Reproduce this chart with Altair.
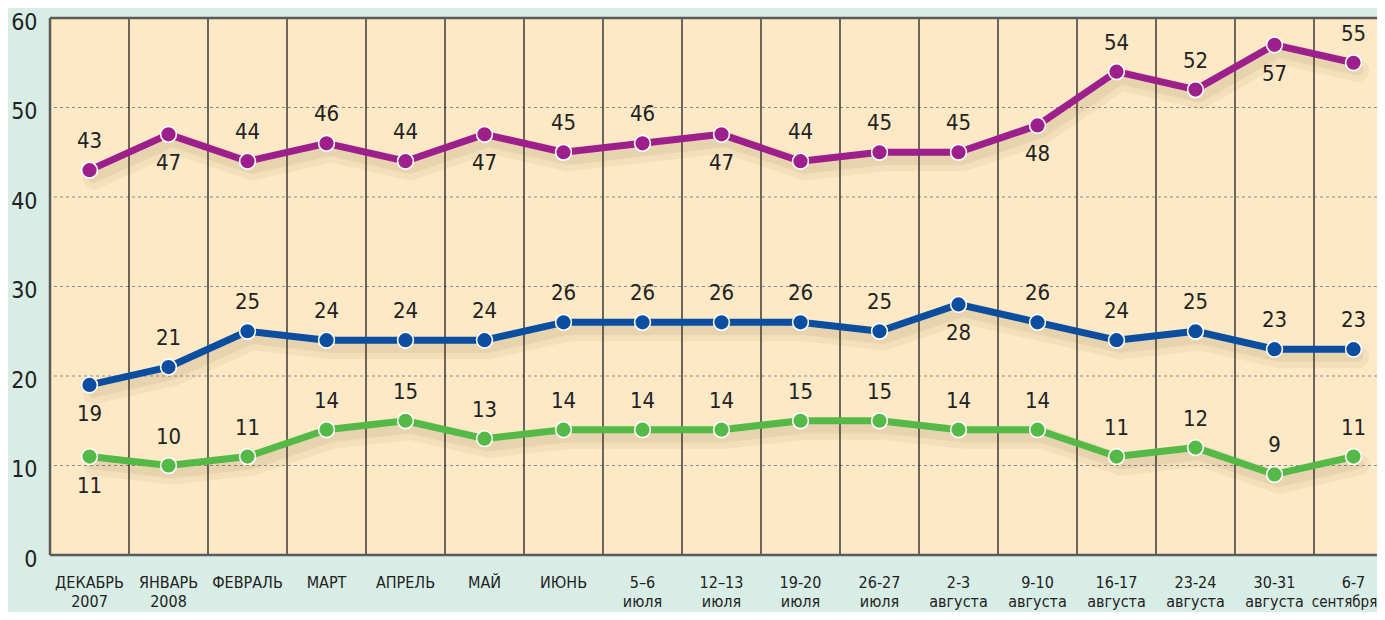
import altair as alt
import pandas as pd

cats_line1 = ["ДЕКАБРЬ", "ЯНВАРЬ", "ФЕВРАЛЬ", "МАРТ", "АПРЕЛЬ", "МАЙ", "ИЮНЬ",
              "5–6", "12–13", "19-20", "26-27", "2-3", "9-10", "16-17",
              "23-24", "30-31", "6-7"]
cats_line2 = ["2007", "2008", "", "", "", "", "", "июля", "июля", "июля", "июля",
              "августа", "августа", "августа", "августа", "августа", "сентября"]

purple = [43, 47, 44, 46, 44, 47, 45, 46, 47, 44, 45, 45, 48, 54, 52, 57, 55]
blue = [19, 21, 25, 24, 24, 24, 26, 26, 26, 26, 25, 28, 26, 24, 25, 23, 23]
green = [11, 10, 11, 14, 15, 13, 14, 14, 14, 15, 15, 14, 14, 11, 12, 9, 11]

# label placement: A = above the point, B = below
purple_pos = "ABAAABAABAAABAABA"
blue_pos = "BAAAAAAAAAABAAAAA"
green_pos = "BAAAAAAAAAAAAAAAA"

series_names = ["purple", "blue", "green"]
series_colors = ["#9c1f8b", "#0b4d9f", "#55b947"]

rows = []
for name, vals, pos in zip(series_names, [purple, blue, green],
                           [purple_pos, blue_pos, green_pos]):
    for i, (v, p) in enumerate(zip(vals, pos)):
        rows.append({"series": name, "idx": i, "value": v, "pos": p})
df = pd.DataFrame(rows)

cat_df = pd.DataFrame({"idx": list(range(len(cats_line1))),
                       "l1": cats_line1, "l2": cats_line2})
sep_df = pd.DataFrame({"b": [i + 0.5 for i in range(len(cats_line1) - 1)]})
grid_df = pd.DataFrame({"g": [10, 20, 30, 40, 50]})
border_h = pd.DataFrame({"g": [0, 60]})
border_v = pd.DataFrame({"b": [-0.5]})
LAST = len(cats_line1) - 1

FONT = "Liberation Sans Narrow, DejaVu Sans Condensed, Arial Narrow, sans-serif"
W = 1327
H = 537
X_MAX = -0.5 + W / 79.0

xscale = alt.Scale(domain=[-0.5, X_MAX], nice=False, zero=False)
yscale = alt.Scale(domain=[0, 60], nice=False)
cscale = alt.Scale(domain=series_names, range=series_colors)

base = alt.Chart(df)

grid = alt.Chart(grid_df).mark_rule(color="#8a8a8a", strokeDash=[3, 3], strokeWidth=1.2).encode(
    y=alt.Y("g:Q", scale=yscale,
            axis=alt.Axis(values=[0, 10, 20, 30, 40, 50, 60], grid=False, ticks=False,
                          domain=False, labelFont=FONT, labelFontSize=23,
                          labelColor="#222222", labelPadding=13, labelOffset=4,
                          title=None)))

seps = alt.Chart(sep_df).mark_rule(color="#1e1e1e", strokeWidth=1.3).encode(
    x=alt.X("b:Q", scale=xscale, axis=None))

bord_h = alt.Chart(border_h).mark_rule(color="#5a5a5a", strokeWidth=2.5).encode(
    y=alt.Y("g:Q", scale=yscale))
bord_v = alt.Chart(border_v).mark_rule(color="#5a5a5a", strokeWidth=2.5).encode(
    x=alt.X("b:Q", scale=xscale, axis=None))

shadow = base.transform_calculate(
    sy="datum.value - 0.9", sx="datum.idx + 0.06"
).mark_line(color="#6b4a20", opacity=0.06, strokeWidth=22, strokeJoin="round", strokeCap="round").encode(
    x=alt.X("sx:Q", scale=xscale, axis=None),
    y=alt.Y("sy:Q", scale=yscale),
    detail="series:N")

shadow2 = base.transform_calculate(
    sy="datum.value - 0.75", sx="datum.idx + 0.05"
).mark_line(color="#6b4a20", opacity=0.08, strokeWidth=12, strokeJoin="round", strokeCap="round").encode(
    x=alt.X("sx:Q", scale=xscale, axis=None),
    y=alt.Y("sy:Q", scale=yscale),
    detail="series:N")

lines = base.mark_line(strokeWidth=7, strokeJoin="round").encode(
    x=alt.X("idx:Q", scale=xscale, axis=None),
    y=alt.Y("value:Q", scale=yscale),
    color=alt.Color("series:N", scale=cscale, legend=None))

points = base.mark_point(filled=True, size=250, stroke="white", strokeWidth=1.6, opacity=1).encode(
    x=alt.X("idx:Q", scale=xscale, axis=None),
    y=alt.Y("value:Q", scale=yscale),
    fill=alt.Fill("series:N", scale=cscale, legend=None))

lab_above = base.transform_filter("datum.pos == 'A'").mark_text(
    font=FONT, fontSize=22, color="#222222", dy=-29).encode(
    x=alt.X("idx:Q", scale=xscale, axis=None),
    y=alt.Y("value:Q", scale=yscale),
    text="value:Q")

lab_below = base.transform_filter("datum.pos == 'B'").mark_text(
    font=FONT, fontSize=22, color="#222222", dy=29).encode(
    x=alt.X("idx:Q", scale=xscale, axis=None),
    y=alt.Y("value:Q", scale=yscale),
    text="value:Q")

xl1 = alt.Chart(cat_df).mark_text(font=FONT, fontSize=16, color="#222222").encode(
    x=alt.X("idx:Q", scale=xscale, axis=None),
    y=alt.value(H + 28),
    text="l1:N")

xl2 = alt.Chart(cat_df).transform_filter(f"datum.idx < {LAST}").mark_text(
    font=FONT, fontSize=16, color="#222222").encode(
    x=alt.X("idx:Q", scale=xscale, axis=None),
    y=alt.value(H + 47),
    text="l2:N")

xl2_last = alt.Chart(cat_df).transform_filter(f"datum.idx == {LAST}").mark_text(
    font=FONT, fontSize=15, color="#222222", dx=-9).encode(
    x=alt.X("idx:Q", scale=xscale, axis=None),
    y=alt.value(H + 47),
    text="l2:N")

chart = alt.layer(grid, seps, shadow, shadow2, lines, points, lab_above, lab_below,
                  bord_h, bord_v, xl1, xl2, xl2_last).properties(
    width=W, height=H,
    background="#d8ede6",
    autosize=alt.AutoSizeParams(type="none"),
    padding={"left": 42, "top": 10, "right": 0, "bottom": 57},
).configure_view(
    fill="#fde9c5", stroke=None
)

chart.save("out.html", embed_options={"renderer": "svg", "actions": False})
